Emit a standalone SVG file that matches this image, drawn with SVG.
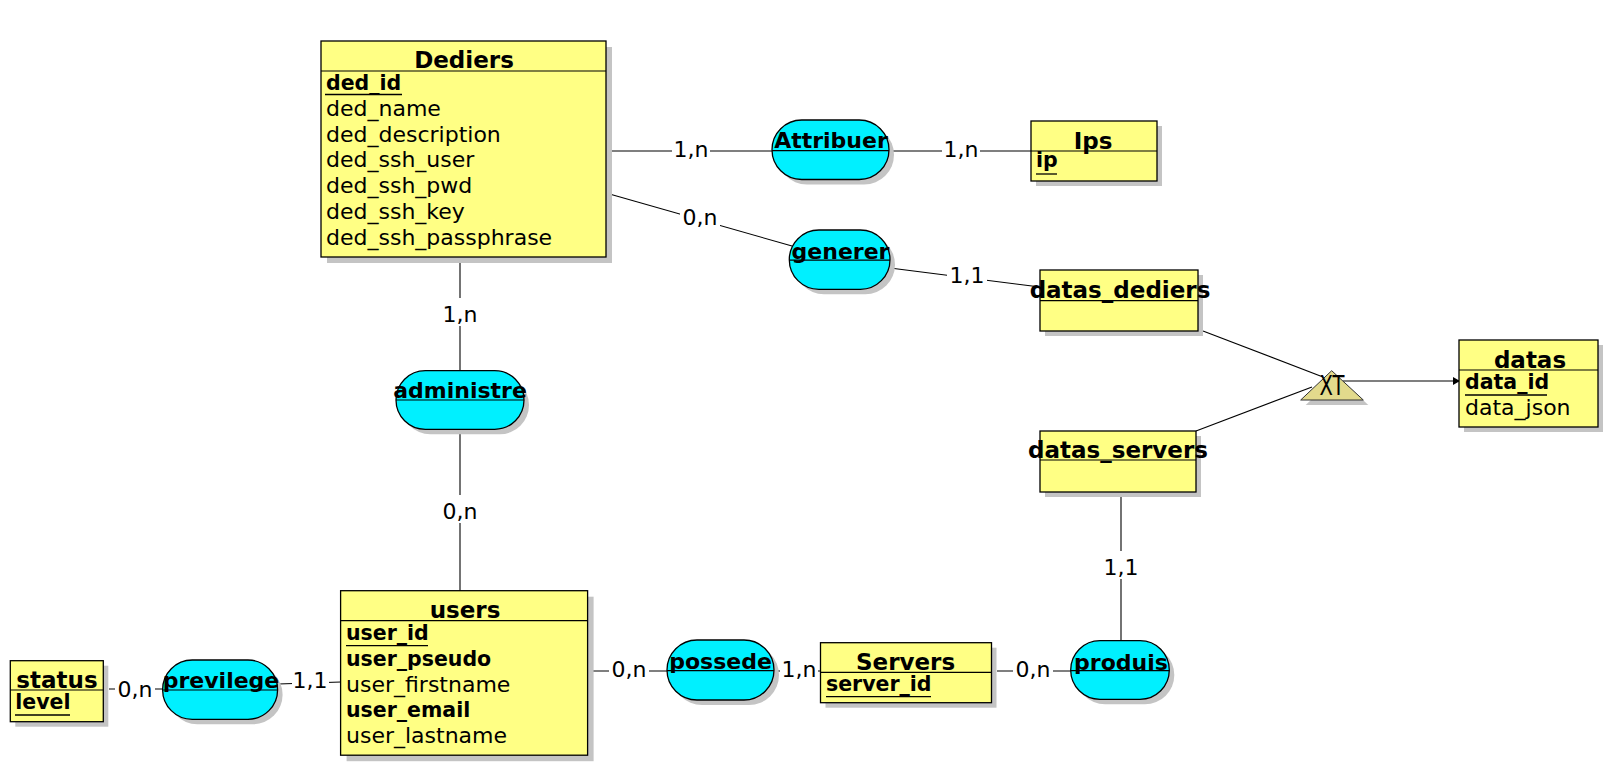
<svg xmlns="http://www.w3.org/2000/svg" width="1609" height="766" viewBox="0 0 1609 766">
<defs>
<style>
.ent{fill:#ffff84;stroke:#000;stroke-width:1.3}
.sh{fill:#c4c4c4}
.asc{fill:#00f0ff;stroke:#000;stroke-width:1.3}
.dv{stroke:#000;stroke-width:1.2}
.t{font-family:"DejaVu Sans",sans-serif;fill:#000}
.title{font-size:23px;font-weight:bold;text-anchor:middle}
.aname{font-size:22px;font-weight:bold;text-anchor:middle}
.attr{font-size:22px}
.key{font-size:20.5px;font-weight:bold}
.card{font-size:22px;text-anchor:middle}
.ln{stroke:#000;stroke-width:1.1;fill:none}
.bg{fill:#fff}
.ul{stroke:#000;stroke-width:1.3}
</style>
<marker id="arr" markerWidth="8" markerHeight="8" refX="7" refY="4" orient="auto" markerUnits="userSpaceOnUse">
<path d="M0,0 L7,4 L0,8 Z" fill="#000"/>
</marker>
</defs>
<rect width="1609" height="766" fill="#fff"/>

<g id="connectors">
<line class="ln" x1="611" y1="151" x2="772" y2="151"/>
<line class="ln" x1="889" y1="151" x2="1031" y2="151"/>
<line class="ln" x1="606" y1="193" x2="792" y2="246"/>
<line class="ln" x1="890" y1="268" x2="1040" y2="287"/>
<line class="ln" x1="460" y1="263" x2="460" y2="371"/>
<line class="ln" x1="460" y1="429" x2="460" y2="591"/>
<line class="ln" x1="109" y1="689" x2="163" y2="689"/>
<line class="ln" x1="278" y1="684" x2="341" y2="682"/>
<line class="ln" x1="593" y1="671" x2="667" y2="671"/>
<line class="ln" x1="774" y1="671" x2="821" y2="671"/>
<line class="ln" x1="997" y1="671" x2="1071" y2="671"/>
<line class="ln" x1="1121" y1="497" x2="1121" y2="641"/>
<line class="ln" x1="1203" y1="331" x2="1323" y2="377"/>
<line class="ln" x1="1196" y1="431" x2="1312" y2="387"/>
<line class="ln" x1="1343" y1="381" x2="1460" y2="381" marker-end="url(#arr)"/>
<g id="cardinalities">
<rect class="bg" x="672" y="138" width="38" height="24"/>
<text class="t card" x="691" y="157">1,n</text>
<rect class="bg" x="942" y="138" width="38" height="24"/>
<text class="t card" x="961" y="157">1,n</text>
<rect class="bg" x="680" y="205" width="40" height="24"/>
<text class="t card" x="700" y="225">0,n</text>
<rect class="bg" x="947" y="263" width="40" height="24"/>
<text class="t card" x="967" y="283">1,1</text>
<rect class="bg" x="440" y="298" width="40" height="28"/>
<text class="t card" x="460" y="322">1,n</text>
<rect class="bg" x="440" y="495" width="40" height="28"/>
<text class="t card" x="460" y="519">0,n</text>
<rect class="bg" x="115" y="677" width="40" height="24"/>
<text class="t card" x="135" y="697">0,n</text>
<rect class="bg" x="292" y="670" width="37" height="22"/>
<text class="t card" x="310" y="688">1,1</text>
<rect class="bg" x="609" y="659" width="40" height="22"/>
<text class="t card" x="629" y="677">0,n</text>
<rect class="bg" x="780" y="659" width="38" height="22"/>
<text class="t card" x="799" y="677">1,n</text>
<rect class="bg" x="1013" y="659" width="40" height="22"/>
<text class="t card" x="1033" y="677">0,n</text>
<rect class="bg" x="1101" y="551" width="40" height="28"/>
<text class="t card" x="1121" y="575">1,1</text>
</g>
</g>

<g id="Dediers">
<rect class="sh" x="327" y="47" width="285" height="216"/>
<rect class="ent" x="321" y="41" width="285" height="216"/>
<line class="dv" x1="321" y1="71" x2="606" y2="71"/>
<text class="t title" x="464" y="68">Dediers</text>
<text class="t key" x="326" y="90">ded_id</text>
<line class="ul" x1="325" y1="94.5" x2="402" y2="94.5"/>
<text class="t attr" x="326" y="115.8">ded_name</text>
<text class="t attr" x="326" y="141.6">ded_description</text>
<text class="t attr" x="326" y="167.4">ded_ssh_user</text>
<text class="t attr" x="326" y="193.2">ded_ssh_pwd</text>
<text class="t attr" x="326" y="219">ded_ssh_key</text>
<text class="t attr" x="326" y="244.8">ded_ssh_passphrase</text>
</g>

<g id="Ips">
<rect class="sh" x="1036" y="126" width="126" height="60"/>
<rect class="ent" x="1031" y="121" width="126" height="60"/>
<line class="dv" x1="1031" y1="151" x2="1157" y2="151"/>
<text class="t title" x="1093" y="149">Ips</text>
<text class="t key" x="1036" y="167">ip</text>
<line class="ul" x1="1036" y1="174" x2="1057" y2="174"/>
</g>

<g id="datas_dediers">
<rect class="sh" x="1045" y="275" width="158" height="61"/>
<rect class="ent" x="1040" y="270" width="158" height="61"/>
<line class="dv" x1="1040" y1="300.7" x2="1198" y2="300.7"/>
<text class="t title" x="1120" y="298">datas_dediers</text>
</g>

<g id="datas_servers">
<rect class="sh" x="1045" y="436" width="156" height="61"/>
<rect class="ent" x="1040" y="431" width="156" height="61"/>
<line class="dv" x1="1040" y1="460" x2="1196" y2="460"/>
<text class="t title" x="1118" y="458">datas_servers</text>
</g>

<g id="datas">
<rect class="sh" x="1464" y="345" width="139" height="87"/>
<rect class="ent" x="1459" y="340" width="139" height="87"/>
<line class="dv" x1="1459" y1="370" x2="1598" y2="370"/>
<text class="t title" x="1530" y="368">datas</text>
<text class="t key" x="1465" y="389">data_id</text>
<line class="ul" x1="1465" y1="395" x2="1547" y2="395"/>
<text class="t attr" x="1465" y="415">data_json</text>
</g>

<g id="XT">
<polygon class="sh" points="1336.7,375.7 1305.7,405 1368.3,405"/>
<polygon points="1331.7,370.7 1300.7,400 1363.3,400" fill="#e2da8c" stroke="#333" stroke-width="1"/>
<text class="t" x="1332" y="395" font-size="26" text-anchor="middle" textLength="25" lengthAdjust="spacingAndGlyphs">XT</text>
</g>

<g id="users">
<rect class="sh" x="346.6" y="596.7" width="247" height="164.5"/>
<rect class="ent" x="340.6" y="590.7" width="247" height="164.5"/>
<line class="dv" x1="340.6" y1="620.7" x2="587.6" y2="620.7"/>
<text class="t title" x="465" y="618">users</text>
<text class="t key" x="346" y="640">user_id</text>
<line class="ul" x1="346" y1="645.7" x2="428" y2="645.7"/>
<text class="t key" x="346" y="665.8">user_pseudo</text>
<text class="t attr" x="346" y="691.6">user_firstname</text>
<text class="t key" x="346" y="717.4">user_email</text>
<text class="t attr" x="346" y="743.2">user_lastname</text>
</g>

<g id="status">
<rect class="sh" x="15.3" y="665.7" width="93" height="61"/>
<rect class="ent" x="10.3" y="660.7" width="93" height="61"/>
<line class="dv" x1="10.3" y1="690" x2="103.3" y2="690"/>
<text class="t title" x="57" y="688">status</text>
<text class="t key" x="15.3" y="709.3">level</text>
<line class="ul" x1="15" y1="715" x2="70" y2="715"/>
</g>

<g id="Servers">
<rect class="sh" x="825.5" y="647.7" width="171" height="60"/>
<rect class="ent" x="820.5" y="642.7" width="171" height="60"/>
<line class="dv" x1="820.5" y1="672.3" x2="991.5" y2="672.3"/>
<text class="t title" x="905.6" y="670">Servers</text>
<text class="t key" x="826" y="690.7">server_id</text>
<line class="ul" x1="826" y1="696.7" x2="931" y2="696.7"/>
</g>

<g id="Attribuer">
<rect class="sh" x="777" y="125" width="117" height="59.5" rx="29.75"/>
<rect class="asc" x="772" y="120" width="117" height="59.5" rx="29.75"/>
<line class="dv" x1="772" y1="150.7" x2="889" y2="150.7"/>
<text class="t aname" x="831" y="148">Attribuer</text>
</g>

<g id="generer">
<rect class="sh" x="794.3" y="235" width="100.7" height="59.3" rx="29.65"/>
<rect class="asc" x="789.3" y="230" width="100.7" height="59.3" rx="29.65"/>
<line class="dv" x1="789.3" y1="260.2" x2="890" y2="260.2"/>
<text class="t aname" x="840.5" y="259">generer</text>
</g>

<g id="administre">
<rect class="sh" x="401" y="375.7" width="128" height="58.6" rx="29.3"/>
<rect class="asc" x="396" y="370.7" width="128" height="58.6" rx="29.3"/>
<line class="dv" x1="396" y1="400" x2="524" y2="400"/>
<text class="t aname" x="460" y="398">administre</text>
</g>

<g id="previlege">
<rect class="sh" x="167.6" y="665" width="115" height="59.3" rx="29.65"/>
<rect class="asc" x="162.6" y="660" width="115" height="59.3" rx="29.65"/>
<line class="dv" x1="162.6" y1="690" x2="277.6" y2="690"/>
<text class="t aname" x="221" y="688">previlege</text>
</g>

<g id="possede">
<rect class="sh" x="672" y="645" width="107" height="60" rx="30"/>
<rect class="asc" x="667" y="640" width="107" height="60" rx="30"/>
<line class="dv" x1="667" y1="670.7" x2="774" y2="670.7"/>
<text class="t aname" x="720.5" y="668.5">possede</text>
</g>

<g id="produis">
<rect class="sh" x="1075.7" y="645.7" width="98.6" height="58.6" rx="29.3"/>
<rect class="asc" x="1070.7" y="640.7" width="98.6" height="58.6" rx="29.3"/>
<line class="dv" x1="1070.7" y1="670.7" x2="1169.3" y2="670.7"/>
<text class="t aname" x="1121" y="670">produis</text>
</g>
</svg>
